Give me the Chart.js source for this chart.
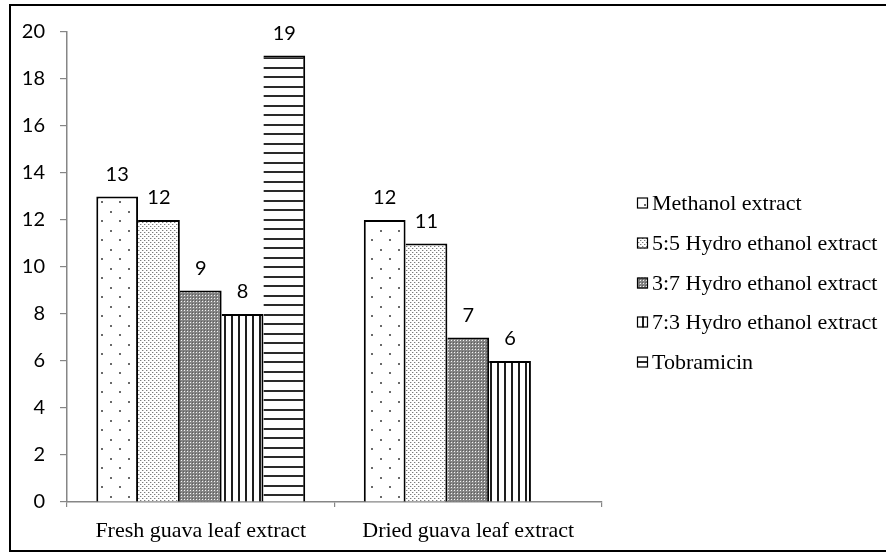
<!DOCTYPE html>
<html><head><meta charset="utf-8">
<script src="https://cdn.jsdelivr.net/npm/chart.js@4.4.1/dist/chart.umd.min.js"></script>
<style>
html,body{margin:0;padding:0;background:#fff;overflow:hidden;}
#wrap{position:relative;width:886px;height:554px;}
#frame{position:absolute;left:9px;top:4px;width:884px;height:548px;border:2px solid #000;box-sizing:border-box;pointer-events:none;}
canvas{position:absolute;left:0;top:0;}
</style></head>
<body><div id="wrap"><canvas id="c" width="886" height="554" style="width:886px;height:554px"></canvas><div id="frame"></div></div>
<script>
const categories = ['Fresh guava leaf extract', 'Dried guava leaf extract'];
const seriesNames = ['Methanol extract', '5:5 Hydro ethanol extract', '3:7 Hydro ethanol extract', '7:3 Hydro ethanol extract', 'Tobramicin'];
const methanol = [13, 12];
const hydro55 = [12, 11];
const hydro37 = [9, 7];
const hydro73 = [8, 6];
const tobramicin = [19, null];
const yTicks = [0, 2, 4, 6, 8, 10, 12, 14, 16, 18, 20];

const mainCtx = document.getElementById('c').getContext('2d');
function makePattern(w, h, draw) {
  const c = document.createElement('canvas');
  c.width = w; c.height = h;
  const g = c.getContext('2d');
  draw(g);
  return mainCtx.createPattern(c, 'repeat');
}
const patMethanol = makePattern(18, 19, g => {
  g.fillStyle = '#fff'; g.fillRect(0, 0, 18, 19);
  g.fillStyle = '#6a6a6a'; g.fillRect(2, 2, 2, 2); g.fillRect(11, 11, 2, 2);
});
const pat55 = makePattern(4, 4, g => {
  g.fillStyle = '#fff'; g.fillRect(0, 0, 4, 4);
  g.fillStyle = '#7c7c7c'; g.fillRect(0, 0, 1, 1); g.fillRect(2, 2, 1, 1);
  g.fillStyle = '#d0d0d0'; g.fillRect(1, 0, 1, 1); g.fillRect(3, 2, 1, 1);
});
const pat37 = makePattern(3, 3, g => {
  g.fillStyle = '#858585'; g.fillRect(0, 0, 3, 3);
  g.fillStyle = '#5e5e5e'; g.fillRect(0, 0, 1, 1);
  g.fillStyle = '#f4f4f4'; g.fillRect(1, 1, 1, 1);
});
const pat73 = makePattern(7, 1, g => {
  g.fillStyle = '#fff'; g.fillRect(0, 0, 7, 1);
  g.fillStyle = '#1e1e1e'; g.fillRect(0, 0, 2, 1);
});
const patTob = makePattern(1, 19, g => {
  g.fillStyle = '#fff'; g.fillRect(0, 0, 1, 19);
  g.fillStyle = '#2a2a2a'; g.fillRect(0, 0, 1, 2); g.fillRect(0, 10, 1, 2);
});

const seriesValues = [methanol, hydro55, hydro37, hydro73, tobramicin];
const seriesFills = [patMethanol, pat55, pat37, pat73, patTob];

const datasets = seriesNames.map((name, i) => ({
  label: name,
  data: seriesValues[i],
  backgroundColor: seriesFills[i],
  borderColor: '#000',
  borderSkipped: false,
  inflateAmount: 0,
  borderWidth: (ctx) => ({ top: 2, right: 2, bottom: 0, left: ctx.datasetIndex === 0 ? 2 : 0 })
}));

const barLabels = {
  id: 'barLabels',
  afterDatasetsDraw(chart) {
    const ctx = chart.ctx;
    ctx.save();
    ctx.font = '20px Lato';
    ctx.fillStyle = '#000';
    ctx.textAlign = 'center';
    ctx.textBaseline = 'alphabetic';
    chart.data.datasets.forEach((ds, i) => {
      const meta = chart.getDatasetMeta(i);
      meta.data.forEach((bar, j) => {
        const v = ds.data[j];
        if (v == null) return;
        ctx.fillText(String(v), bar.x, bar.y - 16);
      });
    });
    ctx.restore();
  }
};

const sideLegend = {
  id: 'sideLegend',
  afterDraw(chart) {
    const ctx = chart.ctx;
    ctx.save();
    ctx.font = '22px "Liberation Serif"';
    ctx.textBaseline = 'middle';
    ctx.textAlign = 'left';
    chart.data.datasets.forEach((ds, i) => {
      const y = Math.round(203 + i * 39.75);
      ctx.save();
      ctx.translate(642, y - 1);
      ctx.fillStyle = ds.backgroundColor;
      ctx.fillRect(-5, -4.5, 11, 11);
      ctx.restore();
      ctx.strokeStyle = '#000';
      ctx.lineWidth = 1.2;
      ctx.strokeRect(637.5, y - 5, 10, 10);
      ctx.fillStyle = '#000';
      ctx.fillText(ds.label, 652, y + 1);
    });
    ctx.restore();
  }
};

new Chart(mainCtx, {
  type: 'bar',
  data: { labels: categories, datasets: datasets },
  options: {
    responsive: false,
    animation: false,
    layout: { padding: { left: 0, top: 32, right: 284, bottom: 0 } },
    datasets: { bar: { categoryPercentage: 0.781, barPercentage: 1 } },
    plugins: { legend: { display: false }, tooltip: { enabled: false } },
    scales: {
      x: {
        grid: { display: true, drawOnChartArea: false, drawTicks: true, tickLength: 5, color: '#868686', lineWidth: 1.2, offset: true },
        border: { display: true, color: '#868686', width: 1.5 },
        ticks: { font: { family: '"Liberation Serif"', size: 22 }, color: '#000', padding: 11 },
        afterFit(s) { s.height = 52; }
      },
      y: {
        min: 0, max: 20,
        afterBuildTicks(s) { s.ticks = yTicks.map(v => ({ value: v })); },
        ticks: { font: { family: 'Lato', size: 20 }, color: '#000', padding: 15 },
        grid: { drawOnChartArea: false, drawTicks: true, tickLength: 7, color: '#868686', lineWidth: 1.2 },
        border: { display: true, color: '#868686', width: 1.5 },
        afterFit(s) { s.width = 67; }
      }
    }
  },
  plugins: [barLabels, sideLegend]
});
</script>
</body></html>
